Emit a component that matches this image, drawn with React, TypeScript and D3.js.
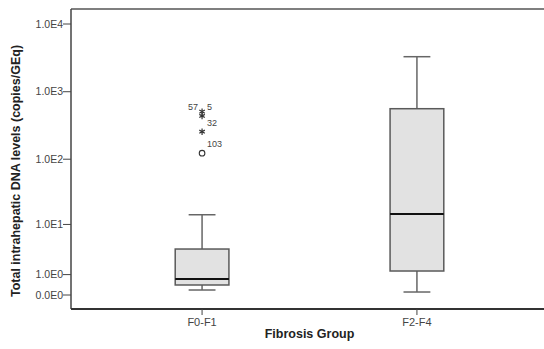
import React, { useEffect, useRef } from 'react';
import * as d3 from 'd3';

// Box summaries (copies/GEq)
const categories = ['F0-F1', 'F2-F4'];
const whiskerLow = [0.185, 0.107];
const q1 = [0.405, 1.26];
const medians = [0.72, 14.7];
const q3 = [3.77, 561];
const whiskerHigh = [14.3, 3290];

// Outliers (SPSS: * = extreme, o = outlier)
const outlierGroups = ['F0-F1', 'F0-F1', 'F0-F1', 'F0-F1'];
const outlierValues = [507, 438, 256, 123];
const outlierIds = ['57', '5', '32', '103'];
const outlierKinds = ['extreme', 'extreme', 'extreme', 'outlier'];
const outlierLabelSide = ['left', 'right', 'right', 'right'];

const yTickValues = [0, 1, 10, 100, 1000, 10000];
const yTickLabels = ['0.0E0', '1.0E0', '1.0E1', '1.0E2', '1.0E3', '1.0E4'];

const WIDTH = 544;
const HEIGHT = 349;

export default function App() {
  const svgRef = useRef<SVGSVGElement>(null);

  useEffect(() => {
    document.body.style.margin = '0';
    if (!svgRef.current) return;
    const svg = d3.select(svgRef.current);
    svg.selectAll('*').remove();

    const frame = { top: 9, bottom: 309, left: 71, right: 548 };
    const font = 'Liberation Sans, Arial, sans-serif';

    // log10(1 + x) style axis, like the SPSS chart
    const y = d3.scaleSymlog()
      .constant(1)
      .domain([0, 10000])
      .range([295, 24]);

    const x = d3.scalePoint<string>()
      .domain(categories)
      .range([frame.left, frame.right])
      .padding(0.61);

    const boxW = x.step() * 0.25;
    const capW = boxW * 0.5;

    // frame
    svg.append('line')
      .attr('x1', frame.left).attr('x2', frame.right)
      .attr('y1', frame.top).attr('y2', frame.top)
      .attr('stroke', '#555').attr('stroke-width', 1.5);
    svg.append('line')
      .attr('x1', frame.left).attr('x2', frame.left)
      .attr('y1', frame.top).attr('y2', frame.bottom)
      .attr('stroke', '#444').attr('stroke-width', 1.5);
    svg.append('line')
      .attr('x1', frame.left).attr('x2', frame.right)
      .attr('y1', frame.bottom).attr('y2', frame.bottom)
      .attr('stroke', '#333').attr('stroke-width', 2);

    // y ticks
    const yt = svg.append('g');
    yTickValues.forEach((v, i) => {
      yt.append('line')
        .attr('x1', frame.left - 8).attr('x2', frame.left)
        .attr('y1', y(v)).attr('y2', y(v))
        .attr('stroke', '#444').attr('stroke-width', 1);
      yt.append('text')
        .attr('x', frame.left - 8)
        .attr('y', y(v))
        .attr('dy', '0.35em')
        .attr('text-anchor', 'end')
        .style('font-family', font)
        .style('font-size', '10.5px')
        .style('fill', '#444')
        .text(yTickLabels[i]);
    });

    // x ticks
    categories.forEach(c => {
      svg.append('line')
        .attr('x1', x(c)!).attr('x2', x(c)!)
        .attr('y1', frame.bottom).attr('y2', frame.bottom + 6)
        .attr('stroke', '#444');
      svg.append('text')
        .attr('x', x(c)!)
        .attr('y', 326)
        .attr('text-anchor', 'middle')
        .style('font-family', font)
        .style('font-size', '11px')
        .style('fill', '#444')
        .text(c);
    });

    // axis titles
    svg.append('text')
      .attr('transform', `translate(20, ${(42 + 300) / 2}) rotate(-90)`)
      .attr('text-anchor', 'middle')
      .style('font-family', font)
      .style('font-size', '12.5px')
      .style('font-weight', 'bold')
      .style('fill', '#222')
      .text('Total intrahepatic DNA levels (copies/GEq)');

    svg.append('text')
      .attr('x', (frame.left + frame.right) / 2)
      .attr('y', 338)
      .attr('text-anchor', 'middle')
      .style('font-family', font)
      .style('font-size', '12.5px')
      .style('font-weight', 'bold')
      .style('fill', '#222')
      .text('Fibrosis Group');

    // boxes
    categories.forEach((c, i) => {
      const cx = x(c)!;
      const g = svg.append('g');
      // whiskers
      g.append('line')
        .attr('x1', cx).attr('x2', cx)
        .attr('y1', y(q3[i])).attr('y2', y(whiskerHigh[i]))
        .attr('stroke', '#666').attr('stroke-width', 1.5);
      g.append('line')
        .attr('x1', cx).attr('x2', cx)
        .attr('y1', y(q1[i])).attr('y2', y(whiskerLow[i]))
        .attr('stroke', '#666').attr('stroke-width', 1.5);
      [whiskerHigh[i], whiskerLow[i]].forEach(v => {
        g.append('line')
          .attr('x1', cx - capW / 2).attr('x2', cx + capW / 2)
          .attr('y1', y(v)).attr('y2', y(v))
          .attr('stroke', '#666').attr('stroke-width', 1.5);
      });
      g.append('rect')
        .attr('x', cx - boxW / 2)
        .attr('width', boxW)
        .attr('y', y(q3[i]))
        .attr('height', y(q1[i]) - y(q3[i]))
        .attr('fill', '#e2e2e2')
        .attr('stroke', '#5a5a5a')
        .attr('stroke-width', 1.5);
      g.append('line')
        .attr('x1', cx - boxW / 2).attr('x2', cx + boxW / 2)
        .attr('y1', y(medians[i])).attr('y2', y(medians[i]))
        .attr('stroke', '#111').attr('stroke-width', 2);
    });

    // outliers
    outlierValues.forEach((v, i) => {
      const cx = x(outlierGroups[i])!;
      const cy = y(v);
      if (outlierKinds[i] === 'extreme') {
        svg.append('path')
          .attr('transform', `translate(${cx},${cy})`)
          .attr('d', d3.symbol(d3.symbolAsterisk, 28)()!)
          .attr('fill', 'none')
          .attr('stroke', '#333')
          .attr('stroke-width', 1.2);
      } else {
        svg.append('circle')
          .attr('cx', cx).attr('cy', cy).attr('r', 2.8)
          .attr('fill', 'none')
          .attr('stroke', '#333')
          .attr('stroke-width', 1.1);
      }
      const left = outlierLabelSide[i] === 'left';
      svg.append('text')
        .attr('x', left ? cx - 4 : cx + 5)
        .attr('y', left ? cy - 2 : cy - 6)
        .attr('text-anchor', left ? 'end' : 'start')
        .style('font-family', font)
        .style('font-size', '9px')
        .style('fill', '#444')
        .text(outlierIds[i]);
    });
  }, []);

  return (
    <svg
      ref={svgRef}
      width={WIDTH}
      height={HEIGHT}
      style={{ display: 'block', background: '#fff' }}
    />
  );
}
